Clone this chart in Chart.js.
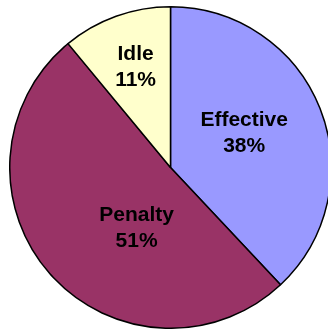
<!DOCTYPE html>
<html>
<head>
<meta charset="utf-8">
<script src="https://cdn.jsdelivr.net/npm/chart.js@4/dist/chart.umd.min.js"></script>
<style>
  html, body { margin: 0; padding: 0; background: #fff; overflow: hidden; width: 328px; height: 329px; }
  #wrap { position: absolute; left: 9px; top: 6px; }
</style>
</head>
<body>
<div id="wrap"><canvas id="pie" width="323" height="323"></canvas></div>
<script>
// Share of time per state
const categories = ['Effective', 'Penalty', 'Idle'];
const shares = [38, 51, 11];
const sliceColors = ['#9999FF', '#993366', '#FFFFCC'];

// Where each label block sits: angle clockwise from 12 o'clock (deg), distance as fraction of radius
const labelAngles = [64.9, 209.2, -19.2];
const labelRadii = [0.506, 0.433, 0.66];

const total = shares.reduce((a, b) => a + b, 0);

const sliceLabels = {
  id: 'sliceLabels',
  afterDatasetsDraw(chart) {
    const ctx = chart.ctx;
    const arcs = chart.getDatasetMeta(0).data;
    ctx.save();
    ctx.fillStyle = '#000';
    ctx.font = 'bold 21px "Liberation Sans", Arial, sans-serif';
    ctx.textAlign = 'center';
    ctx.textBaseline = 'middle';
    arcs.forEach((arc, i) => {
      const a = labelAngles[i] * Math.PI / 180;
      const r = arc.outerRadius * labelRadii[i];
      const cx = arc.x + r * Math.sin(a);
      const cy = arc.y - r * Math.cos(a);
      const pct = Math.round(shares[i] / total * 100) + '%';
      ctx.fillText(categories[i], cx, cy - 13);
      ctx.fillText(pct, cx, cy + 13);
    });
    ctx.restore();
  }
};

new Chart(document.getElementById('pie'), {
  type: 'pie',
  data: {
    labels: categories,
    datasets: [{
      data: shares,
      backgroundColor: sliceColors,
      borderColor: '#000000',
      borderWidth: 1.5
    }]
  },
  options: {
    responsive: false,
    animation: false,
    devicePixelRatio: 1,
    layout: { padding: 0 },
    plugins: {
      legend: { display: false },
      tooltip: { enabled: false }
    }
  },
  plugins: [sliceLabels]
});
</script>
</body>
</html>
